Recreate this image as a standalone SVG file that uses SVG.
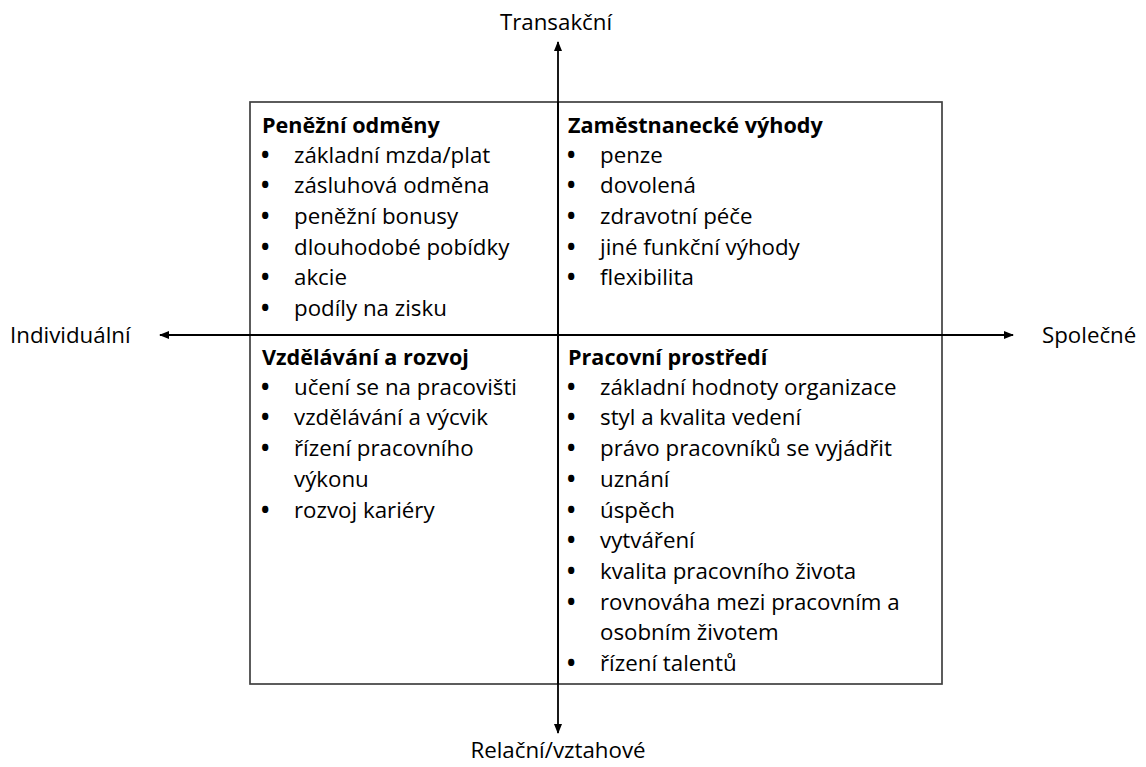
<svg xmlns="http://www.w3.org/2000/svg" width="1146" height="767" viewBox="0 0 1146 767">
  <style>
    text { font-family: "Open Sans", "Liberation Sans", sans-serif; font-size: 22.3px; fill: #000; }
    .t { font-weight: bold; font-size: 21.6px; }
    .b { font-weight: bold; }
    .ax { stroke: #000; stroke-width: 1.8; fill: none; }
    .box { stroke: #404040; stroke-width: 1.7; fill: #fff; }
  </style>
  <defs>
    <marker id="arr" markerUnits="userSpaceOnUse" markerWidth="10" markerHeight="8" refX="9" refY="4" orient="auto">
      <path d="M0,0 L10,4 L0,8 z" fill="#000"/>
    </marker>
  </defs>
  <rect id="frame" class="box" x="250" y="102" width="692" height="582"/>
  <g id="connectors">
    <line class="ax" x1="558" y1="684" x2="558" y2="42" marker-end="url(#arr)"/>
    <line class="ax" x1="558" y1="102" x2="558" y2="733" marker-end="url(#arr)"/>
    <line class="ax" x1="558" y1="335" x2="1013" y2="335" marker-end="url(#arr)"/>
    <line class="ax" x1="558" y1="335" x2="160" y2="335" marker-end="url(#arr)"/>
  </g>
  <g id="label-top"><text x="556" y="30" text-anchor="middle">Transakční</text></g>
  <g id="label-bottom"><text x="558" y="758" text-anchor="middle">Relační/vztahové</text></g>
  <g id="label-left"><text x="10" y="343">Individuální</text></g>
  <g id="label-right"><text x="1042" y="343">Společné</text></g>
  <g id="q-penezni">
    <text class="t" x="262" y="133">Peněžní odměny</text>
    <text x="261" y="162.5"><tspan class="b">•</tspan><tspan x="294">základní mzda/plat</tspan></text>
    <text x="261" y="193.2"><tspan class="b">•</tspan><tspan x="294">zásluhová odměna</tspan></text>
    <text x="261" y="223.9"><tspan class="b">•</tspan><tspan x="294">peněžní bonusy</tspan></text>
    <text x="261" y="254.6"><tspan class="b">•</tspan><tspan x="294">dlouhodobé pobídky</tspan></text>
    <text x="261" y="285.3"><tspan class="b">•</tspan><tspan x="294">akcie</tspan></text>
    <text x="261" y="316"><tspan class="b">•</tspan><tspan x="294">podíly na zisku</tspan></text>
  </g>
  <g id="q-vyhody">
    <text class="t" x="568" y="133">Zaměstnanecké výhody</text>
    <text x="567" y="162.5"><tspan class="b">•</tspan><tspan x="600">penze</tspan></text>
    <text x="567" y="193.2"><tspan class="b">•</tspan><tspan x="600">dovolená</tspan></text>
    <text x="567" y="223.9"><tspan class="b">•</tspan><tspan x="600">zdravotní péče</tspan></text>
    <text x="567" y="254.6"><tspan class="b">•</tspan><tspan x="600">jiné funkční výhody</tspan></text>
    <text x="567" y="285.3"><tspan class="b">•</tspan><tspan x="600">flexibilita</tspan></text>
  </g>
  <g id="q-vzdelavani">
    <text class="t" x="262" y="365">Vzdělávání a rozvoj</text>
    <text x="261" y="394.7"><tspan class="b">•</tspan><tspan x="294">učení se na pracovišti</tspan></text>
    <text x="261" y="425.4"><tspan class="b">•</tspan><tspan x="294">vzdělávání a výcvik</tspan></text>
    <text x="261" y="456.1"><tspan class="b">•</tspan><tspan x="294">řízení pracovního</tspan></text>
    <text x="294" y="486.8">výkonu</text>
    <text x="261" y="517.5"><tspan class="b">•</tspan><tspan x="294">rozvoj kariéry</tspan></text>
  </g>
  <g id="q-prostredi">
    <text class="t" x="568" y="365">Pracovní prostředí</text>
    <text x="567" y="394.7"><tspan class="b">•</tspan><tspan x="600">základní hodnoty organizace</tspan></text>
    <text x="567" y="425.4"><tspan class="b">•</tspan><tspan x="600">styl a kvalita vedení</tspan></text>
    <text x="567" y="456.1"><tspan class="b">•</tspan><tspan x="600">právo pracovníků se vyjádřit</tspan></text>
    <text x="567" y="486.8"><tspan class="b">•</tspan><tspan x="600">uznání</tspan></text>
    <text x="567" y="517.5"><tspan class="b">•</tspan><tspan x="600">úspěch</tspan></text>
    <text x="567" y="548.2"><tspan class="b">•</tspan><tspan x="600">vytváření</tspan></text>
    <text x="567" y="578.9"><tspan class="b">•</tspan><tspan x="600">kvalita pracovního života</tspan></text>
    <text x="567" y="609.6"><tspan class="b">•</tspan><tspan x="600">rovnováha mezi pracovním a</tspan></text>
    <text x="600" y="640.3">osobním životem</text>
    <text x="567" y="671"><tspan class="b">•</tspan><tspan x="600">řízení talentů</tspan></text>
  </g>
</svg>
